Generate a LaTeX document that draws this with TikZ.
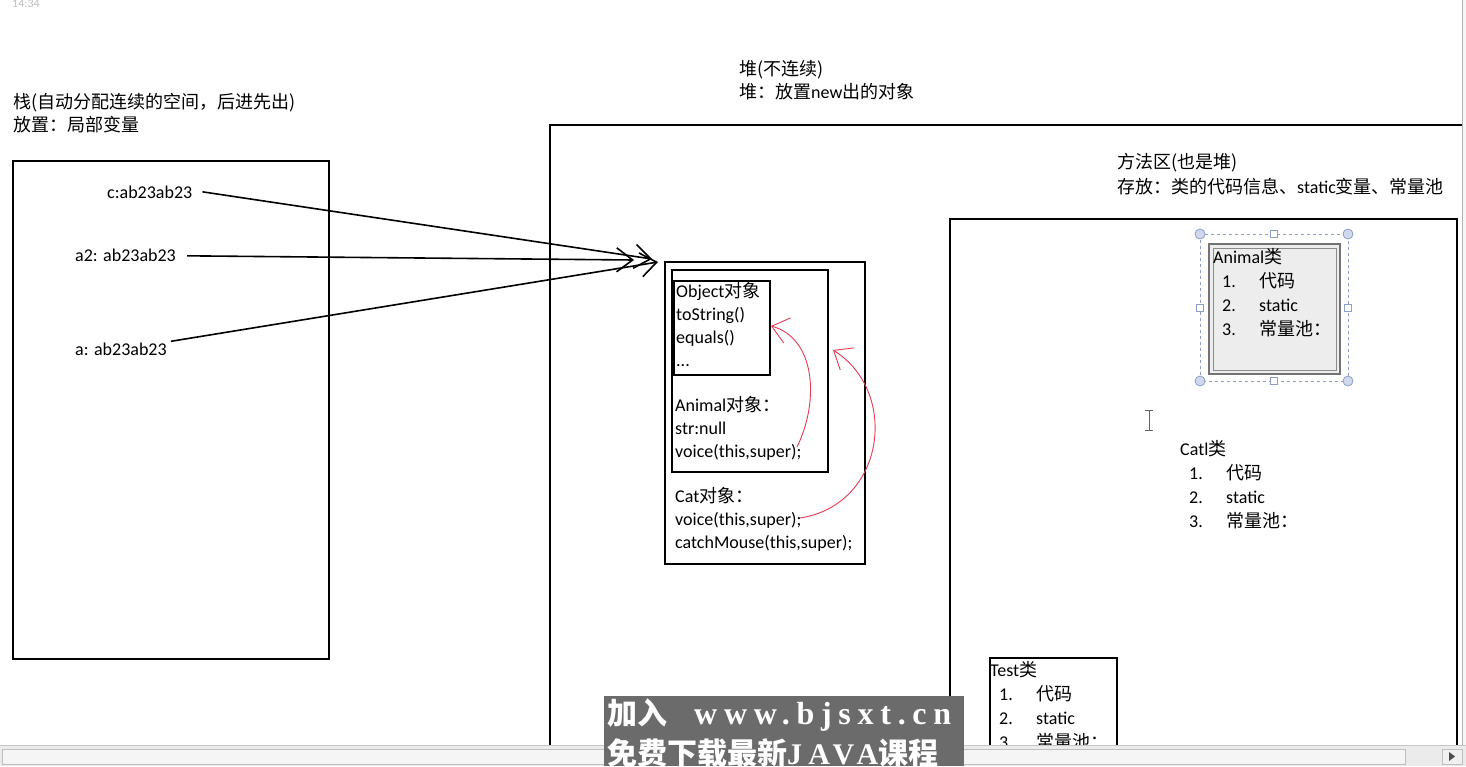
\documentclass[tikz,border=0pt]{standalone}
\usepackage{fontspec}
\setmainfont{Carlito}
\newfontfamily\cjk{Noto Sans CJK SC}
\newfontfamily\wmlatin[LetterSpace=21]{Liberation Serif}
\usetikzlibrary{arrows.meta,calc}
\definecolor{redpen}{RGB}{228,58,82}
\definecolor{selblue}{RGB}{140,158,204}
\newcommand\zh[1]{{\cjk #1}}
\newcommand\clsitem[2]{\hspace*{9pt}\makebox[37pt][l]{#1}#2}

\tikzset{
  box/.style={draw=black, line width=1.6pt},
  txt/.style={font=\fontsize{18}{23}\selectfont, align=left, inner sep=0pt, anchor=base west},
  clstxt/.style={txt, font=\fontsize{18}{24}\selectfont},
  ptr/.style={line width=1.6pt, -{Straight Barb[length=16pt,width=24pt]}},
  back/.style={draw=redpen, line width=0.9pt, -{Straight Barb[length=16pt,width=26pt]}},
  handle/.style={draw=selblue, fill=selblue!40, line width=0.8pt},
  midhandle/.style={draw=selblue, fill=white, line width=0.8pt},
}

\begin{document}
\begin{tikzpicture}[x=1pt,y=-1pt]
			%%%%% FRAME %%%%%
			% multi-line nodes sit on the baseline of their last line
			\useasboundingbox (0,0) rectangle (1466,766);
			\clip (0,0) rectangle (1466,766);
			\fill[white] (0,0) rectangle (1466,766);
			\node[font=\fontsize{12}{14}\selectfont, text=black!25, anchor=base west, inner sep=0pt] (clock) at (12,7) {14:34};
			
			%%%%% STACK %%%%%
			\node[txt] (stacktitle) at (13,131) {\zh{栈(自动分配连续的空间，后进先出)}\\\zh{放置：局部变量}};
			\draw[box] (13,161) rectangle (329,659);
			
			\node[txt] (cref) at (107,198) {c:ab23ab23};
			\node[txt] (a2ref) at (75,261) {a2: ab23ab23};
			\node[txt] (aref) at (75,355) {a: ab23ab23};
			
			%%%%% HEAP %%%%%
			\node[txt] (heaptitle) at (739,98) {\zh{堆(不连续)}\\\zh{堆：放置}new\zh{出的对象}};
			\draw[box] (550,760) -- (550,125) -- (1462,125);
			
			\draw[box] (665,262) rectangle (865,564);
			\draw[box] (672,270) rectangle (828,472);
			\draw[box] (674,281) rectangle (770,375);
			
			\node[txt] (objtext) at (676,366) {Object\zh{对象}\\toString()\\equals()\\...};
			\node[txt] (animaltext) at (675,457) {Animal\zh{对象：}\\str:null\\voice(this,super);};
			\node[txt] (cattext) at (675,548) {Cat\zh{对象：}\\voice(this,super);\\catchMouse(this,super);};
			
			\coordinate (ctip) at (652,259);
			\coordinate (a2tip) at (634,260);
			\coordinate (atip) at (658,262);
			\draw[ptr] ($(cref.east)+(10,0)$) -- (ctip);
			\draw[ptr] ($(a2ref.east)+(11,1)$) -- (a2tip);
			\draw[ptr] ($(aref.north east)+(4,-1)$) -- (atip);
			
			\coordinate (objtip) at (771,326);
			\coordinate (animaltip) at (833,350);
			\draw[back] (797,447) .. controls (820,400) and (815,338) .. (objtip);
			\draw[back] (800,518) .. controls (885,505) and (900,392) .. (animaltip);
			
			%%%%% METHOD AREA %%%%%
			\node[txt] (methodtitle) at (1117,193) {\zh{方法区(也是堆)}\\[2pt]\zh{存放：类的代码信息、}static\zh{变量、常量池}};
			\draw[box] (950,760) -- (950,219) -- (1457,219) -- (1457,760);
			
			\draw[selblue, dashed, line width=0.8pt] (1200,234) rectangle (1348,381);
			\draw[black!55, fill=black!7, line width=1.2pt] (1209,244) rectangle (1340,374);
			\draw[black!45, line width=0.8pt] (1213,248) rectangle (1336,370);
			\foreach \p in {(1200,234),(1348,234),(1200,381),(1348,381)}
				\draw[handle] \p circle (5);
			\foreach \p in {(1274,234),(1274,381),(1200,308),(1348,308)}
				\draw[midhandle] \p ++(-3.5,-3.5) rectangle ++(7,7);
			\node[clstxt] (animalcls) at (1213,335) {Animal\zh{类}\\\clsitem{1.}{\zh{代码}}\\\clsitem{2.}{static}\\\clsitem{3.}{\zh{常量池：}}};
			
			\draw[black!60, line width=1pt] (1145,410) -- (1153,410) (1149,410) -- (1149,430) (1145,430) -- (1153,430);
			
			\node[clstxt] (catcls) at (1180,527) {Catl\zh{类}\\\clsitem{1.}{\zh{代码}}\\\clsitem{2.}{static}\\\clsitem{3.}{\zh{常量池：}}};
			
			\draw[box] (990,760) -- (990,658) -- (1117,658) -- (1117,760);
			\node[clstxt] (testcls) at (990,748) {Test\zh{类}\\\clsitem{1.}{\zh{代码}}\\\clsitem{2.}{static}\\\clsitem{3.}{\zh{常量池：}}};
			
			%%%%% SCROLLBARS %%%%%
			\fill[black!3] (1462,0) rectangle (1466,745);
			\draw[black!30] (1462.5,0) -- (1462.5,745);
			\fill[black!8] (0,745) rectangle (1466,766);
			\draw[black!22] (0,745.5) -- (1466,745.5);
			\draw[black!25, fill=black!4] (2,749) rectangle (1405,764);
			\draw[black!25, fill=black!6] (1442,749) rectangle (1462,764);
			\fill[black!70] (1449,752) -- (1455,756.5) -- (1449,761) -- cycle;
			
			%%%%% WATERMARK %%%%%
			\fill[black!58] (604,696) rectangle (964,766);
			\node[anchor=base west, inner sep=0pt, text=white, font=\fontsize{30}{34}\selectfont\bfseries] (wmjoin) at (607,724) {\zh{加入}};
			\node[anchor=base west, inner sep=0pt, text=white, font=\fontsize{32}{34}\selectfont\bfseries] (wmsite) at (694,724) {\wmlatin www.bjsxt.cn};
			\node[anchor=base west, inner sep=0pt, text=white, font=\fontsize{30}{34}\selectfont\bfseries] (wmcourse) at (607,764) {\zh{免费下载最新}{\wmlatin JAVA}\zh{课程}};
\end{tikzpicture}
\end{document}
